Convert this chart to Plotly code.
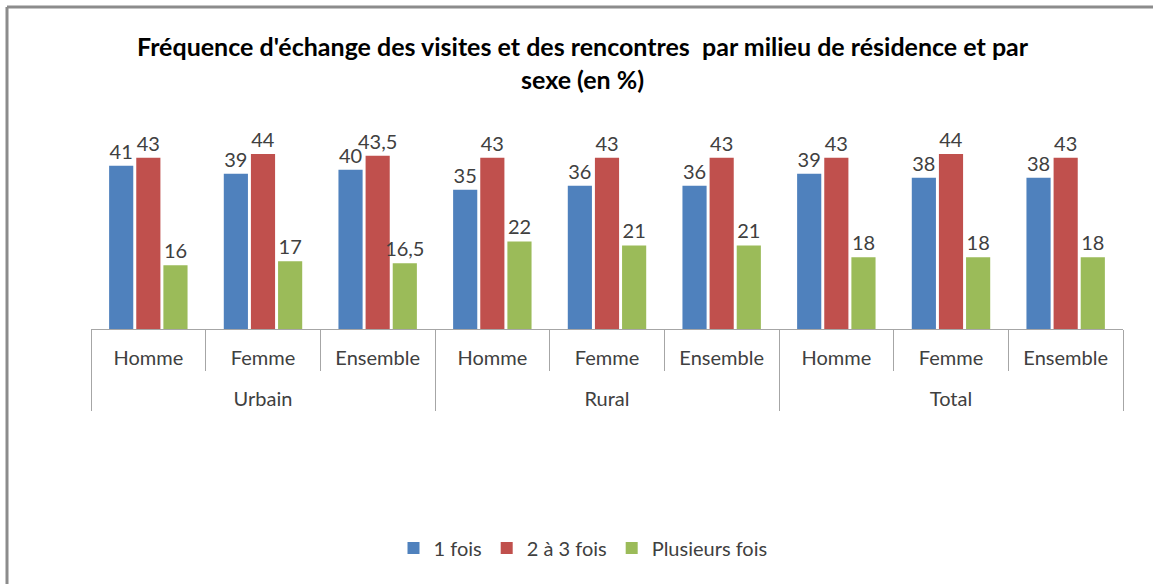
import plotly.graph_objects as go

milieux = ["Urbain", "Urbain", "Urbain", "Rural", "Rural", "Rural", "Total", "Total", "Total"]
sexes = ["Homme", "Femme", "Ensemble"] * 3
series_names = ["1 fois", "2 à 3 fois", "Plusieurs fois"]
une_fois = [41, 39, 40, 35, 36, 36, 39, 38, 38]
deux_trois = [43, 44, 43.5, 43, 43, 43, 43, 44, 43]
plusieurs = [16, 17, 16.5, 22, 21, 21, 18, 18, 18]
colors = ["#4F81BD", "#C0504D", "#9BBB59"]

FONT = "Lato"
W, H = 1153, 584
L, R, T, B = 91, 30, 130, 255
PW, PH = W - L - R, H - T - B


def fmt(v):
    return str(int(v)) if float(v).is_integer() else str(v).replace(".", ",")


# second (blank) line under each inner label gives room for the outer level
sexes_lbl = [s + "<br>\u00a0" for s in sexes]

fig = go.Figure()
for name, vals, col in zip(series_names, [une_fois, deux_trois, plusieurs], colors):
    fig.add_trace(go.Bar(
        x=[milieux, sexes_lbl], y=vals, name=name,
        marker=dict(color=col, line=dict(width=0)),
        text=[fmt(v) for v in vals], textposition="outside",
        textfont=dict(family=FONT, size=20, color="#404040"),
        constraintext="none", cliponaxis=False,
        hoverinfo="skip",
    ))

fig.update_layout(
    width=W, height=H,
    margin=dict(l=L, r=R, t=T, b=B, autoexpand=False),
    paper_bgcolor="white", plot_bgcolor="white",
    barmode="group", bargap=0.29, bargroupgap=0.11,
    showlegend=True,
    legend=dict(orientation="h", x=(583 - L) / PW, xanchor="center",
                y=(329 - 548) / PH, yanchor="middle",
                font=dict(family=FONT, size=20, color="#404040"),
                itemwidth=30, traceorder="normal"),
    font=dict(family=FONT, color="#404040"),
)
fig.update_xaxes(
    type="multicategory",
    showline=True, linecolor="#A6A6A6", linewidth=1,
    ticks="outside", tickson="boundaries", ticklen=41, tickcolor="#A6A6A6",
    showdividers=True, dividercolor="#A6A6A6", dividerwidth=1,
    ticklabelstandoff=11,
    tickfont=dict(family=FONT, size=20, color="#404040"),
    showgrid=False, zeroline=False,
)
fig.update_yaxes(range=[0, 50], visible=False, showgrid=False)

fig.add_annotation(
    text="<b>Fréquence d'échange des visites et des rencontres  par milieu de résidence et par<br>sexe (en %)</b>",
    xref="paper", yref="paper", x=(583 - L) / PW, y=(329 - 62) / PH,
    xanchor="center", yanchor="middle", showarrow=False,
    font=dict(family=FONT, size=25, color="#000000"),
)

# chart frame (outer border)
fig.add_shape(type="line", xref="paper", yref="paper",
              x0=-(L - 7) / PW, x1=(W - L) / PW,
              y0=(329 - 7) / PH, y1=(329 - 7) / PH,
              line=dict(color="#8C8C8C", width=3))
fig.add_shape(type="line", xref="paper", yref="paper",
              x0=-(L - 7) / PW, x1=-(L - 7) / PW,
              y0=(329 - 7) / PH, y1=(329 - H) / PH,
              line=dict(color="#8C8C8C", width=3))

fig.write_html("out.html", config={"displayModeBar": False},
               post_script="document.body.style.margin='0';")
